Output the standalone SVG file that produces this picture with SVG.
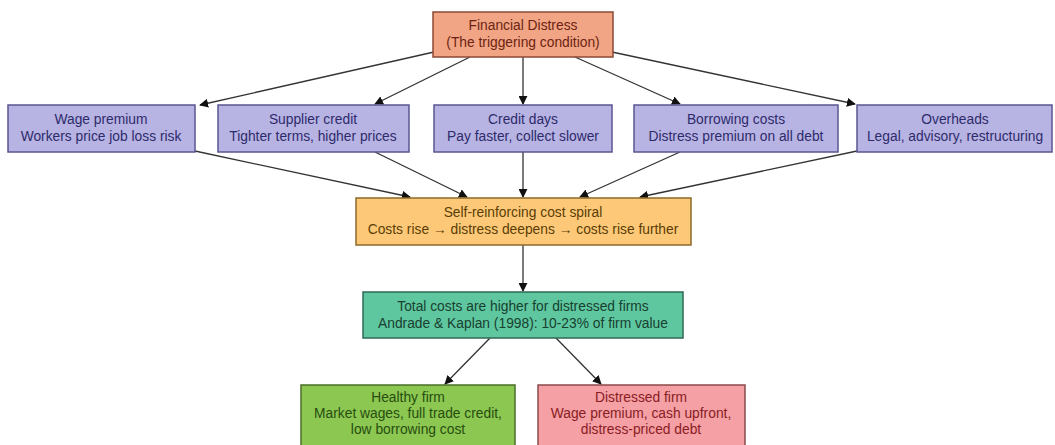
<svg xmlns="http://www.w3.org/2000/svg" width="1055" height="445" viewBox="0 0 1055 445">
<style>
text{font-family:"Liberation Sans",Arial,sans-serif;font-size:13.8px;text-anchor:middle}
.box{stroke-width:1.5}
.p rect{fill:#b7b3e3;stroke:#5a5690}
.p text{fill:#2e2b6b}
.e line{stroke:#333;stroke-width:1.3;marker-end:url(#a)}
</style>
<defs>
<marker id="a" viewBox="0 0 10 10" refX="9" refY="5" markerWidth="9" markerHeight="9" orient="auto" markerUnits="userSpaceOnUse"><path d="M0,0L10,5L0,10z" fill="#111"/></marker>
</defs>
<rect width="1055" height="445" fill="#fff"/>
<g class="e">
<line x1="434" y1="52" x2="200" y2="105"/>
<line x1="470" y1="57" x2="375" y2="104"/>
<line x1="523" y1="57" x2="523" y2="104"/>
<line x1="575" y1="57" x2="680" y2="104"/>
<line x1="612" y1="52" x2="855" y2="104"/>
<line x1="195" y1="151" x2="410" y2="197"/>
<line x1="375" y1="152" x2="467" y2="197"/>
<line x1="523" y1="152" x2="523" y2="197"/>
<line x1="680" y1="152" x2="580" y2="197"/>
<line x1="857" y1="151" x2="640" y2="197"/>
<line x1="523" y1="245" x2="523" y2="291"/>
<line x1="490" y1="338" x2="445" y2="384"/>
<line x1="556" y1="338" x2="601" y2="384"/>
</g>
<g id="n_fd"><rect class="box" x="433" y="12" width="180" height="45" fill="#f2a584" stroke="#8a4a34"/><text x="523" y="30" fill="#6b2413">Financial Distress</text><text x="523" y="47" fill="#6b2413">(The triggering condition)</text></g>
<g id="n_wage" class="p"><rect class="box" x="8" y="105" width="187" height="47"/><text x="101" y="124">Wage premium</text><text x="101" y="141">Workers price job loss risk</text></g>
<g id="n_supp" class="p"><rect class="box" x="218" y="105" width="191" height="47"/><text x="313" y="124">Supplier credit</text><text x="313" y="141">Tighter terms, higher prices</text></g>
<g id="n_cred" class="p"><rect class="box" x="434" y="105" width="178" height="47"/><text x="523" y="124">Credit days</text><text x="523" y="141">Pay faster, collect slower</text></g>
<g id="n_borr" class="p"><rect class="box" x="634" y="105" width="204" height="47"/><text x="736" y="124">Borrowing costs</text><text x="736" y="141">Distress premium on all debt</text></g>
<g id="n_over" class="p"><rect class="box" x="857" y="105" width="195" height="47"/><text x="955" y="124">Overheads</text><text x="955" y="141">Legal, advisory, restructuring</text></g>
<g id="n_spiral"><rect class="box" x="356" y="198" width="335" height="47" fill="#fdc978" stroke="#8a6a2a"/><text x="523" y="217" fill="#5a3d05">Self-reinforcing cost spiral</text><text x="523" y="234" fill="#5a3d05">Costs rise → distress deepens → costs rise further</text></g>
<g id="n_total"><rect class="box" x="363" y="292" width="320" height="46" fill="#5fc7a0" stroke="#2f6a55"/><text x="523" y="311" fill="#17402f">Total costs are higher for distressed firms</text><text x="523" y="328" fill="#17402f">Andrade &amp; Kaplan (1998): 10-23% of firm value</text></g>
<g id="n_healthy"><rect class="box" x="301" y="385" width="214" height="65" fill="#8cc751" stroke="#4a6f2a"/><text x="408" y="402" fill="#274d10">Healthy firm</text><text x="408" y="418" fill="#274d10">Market wages, full trade credit,</text><text x="408" y="434" fill="#274d10">low borrowing cost</text></g>
<g id="n_dist"><rect class="box" x="538" y="385" width="207" height="65" fill="#f4a0a4" stroke="#8a4a4a"/><text x="641" y="402" fill="#8a1c24">Distressed firm</text><text x="641" y="418" fill="#8a1c24">Wage premium, cash upfront,</text><text x="641" y="434" fill="#8a1c24">distress-priced debt</text></g>
</svg>
